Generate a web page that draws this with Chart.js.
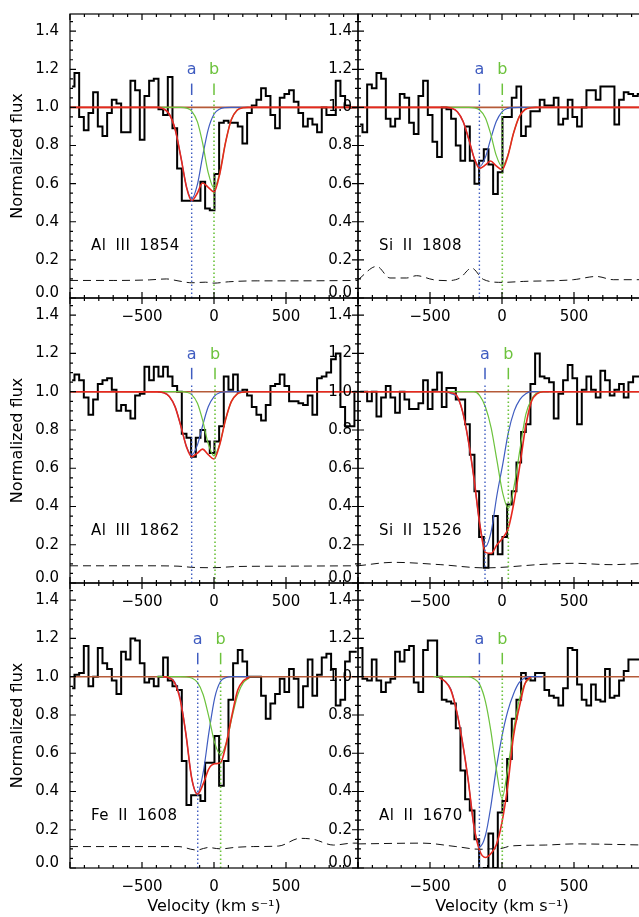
<!DOCTYPE html>
<html>
<head>
<meta charset="utf-8">
<script src="https://cdn.jsdelivr.net/npm/chart.js@4.4.0/dist/chart.umd.min.js"></script>
<style>
  html, body { margin: 0; padding: 0; background: #fff; overflow: hidden; }
  body { width: 639px; height: 917px; position: relative; }
  canvas { position: absolute; left: 0; top: 0; }
</style>
</head>
<body>
<script>
// ---- spectra: normalized flux per velocity bin ----
const binStart = -985;   // centre of the first bin, km/s
const binWidth = 32.4;   // km/s per bin

const fluxTicks = [0.0, 0.2, 0.4, 0.6, 0.8, 1.0, 1.2, 1.4];
const velTicks = [-500, 0, 500];

const ionLabels = ['Al III 1854', 'Si II 1808', 'Al III 1862', 'Si II 1526', 'Fe II 1608', 'Al II 1670'];

const fluxAl1854 = [1.11, 1.18, 0.95, 0.88, 0.97, 1.08, 0.90, 0.85, 0.97, 1.04,
  1.02, 0.87, 0.87, 1.14, 1.09, 0.83, 1.06, 1.14, 1.15, 0.99,
  0.96, 1.16, 0.89, 0.68, 0.51, 0.51, 0.51, 0.51, 0.61, 0.47,
  0.46, 0.65, 0.92, 0.93, 0.92, 0.92, 0.90, 0.81, 0.97, 1.01,
  1.04, 1.10, 1.06, 0.96, 0.89, 1.05, 1.07, 1.09, 1.03, 0.97,
  0.90, 0.94, 0.91, 0.87, 1.00, 0.96, 0.96, 1.14, 1.06, 1.01,
  1.00, 1.00];
const fluxSi1808 = [0.91, 0.87, 1.12, 1.10, 1.18, 1.15, 0.94, 0.90, 0.94, 1.07,
  1.05, 0.92, 0.86, 1.06, 1.14, 0.96, 0.82, 0.74, 1.00, 0.99,
  0.94, 0.80, 0.72, 0.90, 0.72, 0.60, 0.72, 0.78, 0.70, 0.545,
  0.66, 0.95, 0.95, 1.05, 1.11, 0.85, 0.90, 0.98, 0.98, 1.04,
  1.01, 1.01, 1.05, 0.91, 0.94, 1.04, 0.95, 0.90, 1.00, 1.09,
  1.09, 1.04, 1.11, 1.11, 1.11, 0.91, 1.04, 1.08, 1.07, 1.06,
  1.07, 1.07];
const fluxAl1862 = [1.06, 1.09, 1.06, 0.97, 0.88, 0.96, 1.04, 1.06, 1.07, 1.01,
  0.90, 0.93, 0.90, 0.86, 0.98, 0.99, 1.13, 1.06, 1.13, 1.08,
  1.13, 1.08, 1.03, 1.00, 0.78, 0.76, 0.66, 0.76, 0.80, 0.74,
  0.68, 0.74, 0.82, 1.08, 1.01, 1.09, 1.00, 1.01, 0.98, 0.92,
  0.88, 0.85, 0.93, 1.03, 1.04, 1.09, 1.03, 0.95, 0.95, 0.94,
  0.93, 0.98, 0.88, 1.07, 1.08, 1.10, 1.17, 1.20, 0.92, 0.82,
  0.82, 1.00];
const fluxSi1526 = [1.00, 1.00, 0.95, 1.00, 0.87, 0.97, 1.03, 0.97, 0.89, 1.00,
  0.96, 0.91, 0.91, 0.94, 1.06, 0.91, 1.01, 1.10, 0.92, 1.02,
  1.02, 0.96, 0.96, 0.83, 0.67, 0.48, 0.24, 0.08, 0.15, 0.35,
  0.15, 0.24, 0.41, 0.48, 0.63, 0.79, 0.83, 1.04, 1.20, 1.08,
  1.07, 1.05, 0.86, 0.99, 1.06, 1.14, 1.07, 0.83, 1.01, 1.08,
  1.01, 0.97, 1.11, 1.06, 0.98, 1.01, 1.04, 0.97, 1.05, 1.08,
  1.08, 1.06];
const fluxFe1608 = [0.94, 1.01, 1.02, 1.16, 0.95, 1.00, 1.15, 1.07, 1.04, 0.98,
  0.91, 1.13, 1.09, 1.20, 1.19, 1.07, 0.97, 0.99, 0.95, 1.00,
  1.10, 0.98, 0.95, 0.93, 0.56, 0.33, 0.38, 0.38, 0.35, 0.55,
  0.55, 0.69, 0.43, 0.56, 0.88, 1.07, 1.14, 1.08, 1.00, 1.00,
  1.00, 0.90, 0.78, 0.86, 0.91, 0.99, 0.92, 1.04, 0.99, 0.84,
  0.95, 1.09, 0.90, 1.01, 1.10, 1.12, 1.04, 0.85, 0.88, 1.08,
  1.13, 1.13];
const fluxAl1670 = [1.15, 0.99, 0.98, 1.09, 0.98, 0.92, 0.97, 0.99, 1.13, 1.08,
  1.14, 1.16, 0.97, 0.92, 1.14, 1.19, 1.19, 1.00, 0.88, 0.87,
  0.86, 0.73, 0.51, 0.36, 0.30, 0.15, -0.03, 0.00, 0.18, 0.00,
  0.29, 0.35, 0.57, 0.78, 0.88, 1.02, 0.99, 0.98, 1.02, 1.02,
  0.93, 0.90, 0.89, 0.85, 0.94, 1.15, 1.14, 0.96, 0.88, 0.85,
  0.96, 0.88, 0.87, 1.04, 0.89, 0.90, 0.98, 1.03, 1.09, 1.09,
  1.09, 1.09];

// ---- error spectra (dashed) ----
const noiseVelAl1854 = [-1000, -700, -450, -330, -250, -155, -60, 0, 100, 300, 600, 1000];
const noiseAl1854 = [0.092, 0.092, 0.095, 0.100, 0.090, 0.080, 0.083, 0.078, 0.085, 0.090, 0.090, 0.092];
const noiseVelSi1808 = [-1000, -870, -778, -662, -593, -477, -384, -292, -211, -130, 2, 148, 495, 657, 773, 935, 1000];
const noiseSi1808 = [0.096, 0.166, 0.105, 0.105, 0.117, 0.096, 0.091, 0.105, 0.157, 0.098, 0.082, 0.087, 0.096, 0.113, 0.096, 0.096, 0.096];
const noiseVelAl1862 = [-1000, -500, -250, -155, 0, 150, 500, 1000];
const noiseAl1862 = [0.090, 0.090, 0.088, 0.082, 0.080, 0.086, 0.088, 0.090];
const noiseVelSi1526 = [-1000, -755, -430, -118, 0, 250, 500, 750, 1000];
const noiseSi1526 = [0.090, 0.108, 0.096, 0.079, 0.082, 0.096, 0.103, 0.096, 0.103];
const noiseVelFe1608 = [-1000, -500, -250, -120, -40, 45, 150, 273, 450, 597, 690, 829, 968, 1000];
const noiseFe1608 = [0.112, 0.112, 0.112, 0.094, 0.107, 0.100, 0.108, 0.112, 0.115, 0.155, 0.150, 0.120, 0.130, 0.130];
const noiseVelAl1670 = [-1000, -550, -320, -155, -80, 0, 60, 300, 500, 1000];
const noiseAl1670 = [0.126, 0.130, 0.112, 0.098, 0.100, 0.103, 0.115, 0.120, 0.126, 0.120];

// ---- fitted profiles: component a (blue), b (green), total (red) ----
const modelVelWide = [-1000, -390, -350, -310, -270, -230, -190, -155, -115, -80, -40, 0, 40, 80, 120, 160, 200, 240, 1000];
const blueAl1854 = [null, 1.0, 0.992, 0.964, 0.885, 0.739, 0.580, 0.52, 0.596, 0.739, 0.885, 0.964, 0.992, 0.999, 1.0, 1.0, 1.0, 1.0, null];
const greenAl1854 = [null, 1.0, 1.0, 1.0, 1.0, 1.0, 0.996, 0.981, 0.924, 0.816, 0.657, 0.577, 0.657, 0.816, 0.935, 0.985, 0.998, 1.0, null];
const redAl1854 = [1.0, 1.0, 0.992, 0.964, 0.885, 0.739, 0.578, 0.510, 0.551, 0.603, 0.581, 0.556, 0.652, 0.815, 0.935, 0.985, 0.998, 1.0, 1.0];
const blueSi1808 = [null, 1.0, 0.995, 0.977, 0.926, 0.831, 0.728, 0.69, 0.739, 0.831, 0.926, 0.977, 0.995, 0.999, 1.0, 1.0, 1.0, 1.0, null];
const greenSi1808 = [null, 1.0, 1.0, 1.0, 1.0, 1.0, 0.997, 0.986, 0.945, 0.865, 0.748, 0.69, 0.748, 0.865, 0.952, 0.989, 0.998, 1.0, null];
const redSi1808 = [1.0, 1.0, 0.995, 0.977, 0.926, 0.831, 0.726, 0.680, 0.698, 0.719, 0.693, 0.674, 0.744, 0.864, 0.952, 0.989, 0.998, 1.0, 1.0];
const blueAl1862 = [null, 0.999, 0.995, 0.975, 0.921, 0.820, 0.711, 0.67, 0.722, 0.820, 0.921, 0.975, 0.995, 0.999, 1.0, 1.0, 1.0, 1.0, null];
const greenAl1862 = [null, 1.0, 1.0, 1.0, 1.0, 1.0, 0.997, 0.985, 0.94, 0.854, 0.728, 0.665, 0.728, 0.854, 0.948, 0.988, 0.998, 1.0, null];
const redAl1862 = [1.0, 0.999, 0.995, 0.975, 0.921, 0.820, 0.709, 0.660, 0.679, 0.700, 0.671, 0.648, 0.724, 0.853, 0.948, 0.988, 0.998, 1.0, 1.0];

const modelVelShift = [-1000, -435, -395, -355, -315, -275, -235, -195, -155, -115, -75, -35, 5, 45, 85, 125, 165, 205, 245, 285, 325, 1000];
const blueSi1526 = [null, 1.0, 1.0, 0.99, 0.975, 0.90, 0.75, 0.55, 0.31, 0.19, 0.27, 0.46, 0.62, 0.79, 0.90, 0.96, 0.99, 1.0, 1.0, 1.0, 1.0, null];
const greenSi1526 = [null, 1.0, 1.0, 1.0, 1.0, 1.0, 1.0, 1.0, 0.98, 0.92, 0.81, 0.64, 0.47, 0.39, 0.51, 0.70, 0.88, 0.96, 0.995, 1.0, 1.0, null];
const redSi1526 = [1.0, 1.0, 1.0, 0.995, 0.98, 0.90, 0.75, 0.55, 0.31, 0.16, 0.155, 0.20, 0.235, 0.29, 0.43, 0.62, 0.82, 0.95, 0.99, 1.0, 1.0, 1.0];
const blueFe1608 = [null, null, null, 1.0, 0.996, 0.975, 0.89, 0.70, 0.47, 0.39, 0.50, 0.71, 0.89, 0.975, 0.996, 1.0, 1.0, 1.0, 1.0, null, null, null];
const greenFe1608 = [null, null, 1.0, 1.0, 1.0, 1.0, 1.0, 0.999, 0.993, 0.97, 0.906, 0.788, 0.654, 0.593, 0.654, 0.788, 0.906, 0.97, 0.993, null, null, null];
const redFe1608 = [null, null, null, 1.0, 0.995, 0.97, 0.88, 0.70, 0.47, 0.385, 0.44, 0.52, 0.545, 0.55, 0.65, 0.80, 0.93, 0.98, 0.997, null, null, null];

const modelVelAl1670 = [-1000, -515, -475, -435, -395, -355, -315, -275, -235, -195, -155, -115, -78, -40, 0, 40, 80, 120, 160, 200, 240, 280, 320, 1000];
const blueAl1670 = [null, null, null, 0.995, 0.975, 0.935, 0.82, 0.66, 0.46, 0.22, 0.112, 0.17, 0.32, 0.52, 0.69, 0.82, 0.91, 0.97, 0.995, 1.0, 1.0, 1.0, null, null];
const greenAl1670 = [null, null, 1.0, 1.0, 1.0, 1.0, 1.0, 1.0, 1.0, 0.99, 0.96, 0.87, 0.72, 0.52, 0.365, 0.52, 0.72, 0.88, 0.965, 0.993, null, null, null, null];
const redAl1670 = [null, null, null, 0.995, 0.975, 0.93, 0.82, 0.66, 0.46, 0.22, 0.09, 0.055, 0.075, 0.12, 0.24, 0.43, 0.69, 0.84, 0.965, 0.998, null, null, null, null];

// component centres [a, b], km/s
const compsAl1854 = [-155, 0];
const compsSi1808 = [-157, 2];
const compsAl1862 = [-155, 7];
const compsSi1526 = [-118, 44];
const compsFe1608 = [-113, 46];
const compsAl1670 = [-157, 2];

const panels = [
  { flux: fluxAl1854, noiseVel: noiseVelAl1854, noise: noiseAl1854, modelVel: modelVelWide, blue: blueAl1854, green: greenAl1854, red: redAl1854, comps: compsAl1854 },
  { flux: fluxSi1808, noiseVel: noiseVelSi1808, noise: noiseSi1808, modelVel: modelVelWide, blue: blueSi1808, green: greenSi1808, red: redSi1808, comps: compsSi1808 },
  { flux: fluxAl1862, noiseVel: noiseVelAl1862, noise: noiseAl1862, modelVel: modelVelWide, blue: blueAl1862, green: greenAl1862, red: redAl1862, comps: compsAl1862 },
  { flux: fluxSi1526, noiseVel: noiseVelSi1526, noise: noiseSi1526, modelVel: modelVelShift, blue: blueSi1526, green: greenSi1526, red: redSi1526, comps: compsSi1526 },
  { flux: fluxFe1608, noiseVel: noiseVelFe1608, noise: noiseFe1608, modelVel: modelVelShift, blue: blueFe1608, green: greenFe1608, red: redFe1608, comps: compsFe1608 },
  { flux: fluxAl1670, noiseVel: noiseVelAl1670, noise: noiseAl1670, modelVel: modelVelAl1670, blue: blueAl1670, green: greenAl1670, red: redAl1670, comps: compsAl1670 }
];

// ---- layout ----
const W = 660, H = 917;
const colEdges = [70, 358, 646];
const rowEdges = [14, 298, 583, 868];
const FONT = '"DejaVu Sans", sans-serif';
const COL_A = '#3f5cc0', COL_B = '#6cc23c', COL_RED = '#e6281e', COL_CONT = '#b55a38';

const pairs = (xs, ys) => xs.map((x, i) => ({ x, y: ys[i] }));

// IDL-style box: inward ticks on all four sides, labels outside
const idlFrame = {
  id: 'idlFrame',
  afterDraw(chart) {
    const o = chart.options.plugins.idlFrame;
    const { ctx, chartArea: a } = chart;
    const xs = chart.scales.x, ys = chart.scales.y;
    ctx.save();
    ctx.strokeStyle = '#000';
    ctx.lineWidth = 1.2;
    ctx.strokeRect(a.left, a.top, a.right - a.left, a.bottom - a.top);
    ctx.beginPath();
    for (let v = -1000; v <= 1000; v += 100) {
      const px = xs.getPixelForValue(v);
      const len = v % 500 === 0 ? 6 : 3;
      ctx.moveTo(px, a.bottom); ctx.lineTo(px, a.bottom - len);
      ctx.moveTo(px, a.top); ctx.lineTo(px, a.top + len);
    }
    for (let k = 0; k <= 29; k++) {
      const py = ys.getPixelForValue(k * 0.05);
      const len = k % 4 === 0 ? 6 : 3;
      ctx.moveTo(a.left, py); ctx.lineTo(a.left + len, py);
      ctx.moveTo(a.right, py); ctx.lineTo(a.right - len, py);
    }
    ctx.stroke();

    ctx.fillStyle = '#000';
    ctx.font = '15px ' + FONT;
    ctx.textAlign = 'right';
    ctx.textBaseline = 'middle';
    fluxTicks.forEach(f => {
      const py = Math.min(ys.getPixelForValue(f), a.bottom - 5);
      ctx.fillText(f.toFixed(1), a.left - o.labelGap, py);
    });
    ctx.textAlign = 'center';
    velTicks.forEach(v => {
      const txt = v < 0 ? '\u2212' + Math.abs(v) : String(v);
      ctx.fillText(txt, xs.getPixelForValue(v), a.bottom + 19);
    });

    // line identification
    ctx.textAlign = 'left';
    ctx.font = '15px ' + FONT;
    ctx.letterSpacing = '0.5px';
    ctx.wordSpacing = '4px';
    ctx.fillText(o.ion, xs.getPixelForValue(-855), ys.getPixelForValue(0.27));
    ctx.letterSpacing = '0px';
    ctx.wordSpacing = '0px';

    // component names
    ctx.textAlign = 'center';
    ctx.font = '16px ' + FONT;
    ctx.fillStyle = COL_A;
    ctx.fillText('a', xs.getPixelForValue(o.comps[0]), ys.getPixelForValue(1.195));
    ctx.fillStyle = COL_B;
    ctx.fillText('b', xs.getPixelForValue(o.comps[1]), ys.getPixelForValue(1.195));

    ctx.fillStyle = '#000';
    ctx.font = '16px ' + FONT;
    if (o.yTitle) {
      ctx.save();
      ctx.translate(18, (a.top + a.bottom) / 2);
      ctx.rotate(-Math.PI / 2);
      ctx.fillText('Normalized flux', 0, 0);
      ctx.restore();
    }
    if (o.xTitle) {
      ctx.fillText('Velocity (km s\u207B\u00B9)', (a.left + a.right) / 2, 907);
    }
    ctx.restore();
  }
};

panels.forEach((p, i) => {
  const col = i % 2, row = Math.floor(i / 2);
  const cv = document.createElement('canvas');
  cv.width = W; cv.height = H;
  cv.style.width = W + 'px'; cv.style.height = H + 'px';
  document.body.appendChild(cv);

  const hist = p.flux.map((f, k) => ({ x: binStart + k * binWidth, y: f }));
  const [ca, cb] = p.comps;

  // first dataset is drawn on top; red and the continuum share a width so
  // the total profile fully hides the continuum where it spans the panel
  const datasets = [
    { data: [{ x: ca, y: 1.065 }, { x: ca, y: 1.125 }], borderColor: COL_A, borderWidth: 1.5 },
    { data: [{ x: cb, y: 1.065 }, { x: cb, y: 1.125 }], borderColor: COL_B, borderWidth: 1.5 },
    { data: [{ x: ca, y: 0 }, { x: ca, y: 1.045 }], borderColor: COL_A, borderWidth: 1.4, borderDash: [1.5, 2.5] },
    { data: [{ x: cb, y: 0 }, { x: cb, y: 1.045 }], borderColor: COL_B, borderWidth: 1.6, borderDash: [1.5, 2.5] },
    { data: pairs(p.modelVel, p.red), borderColor: COL_RED, borderWidth: 1.6, cubicInterpolationMode: 'monotone' },
    { data: pairs(p.modelVel, p.green), borderColor: COL_B, borderWidth: 1.2, cubicInterpolationMode: 'monotone' },
    { data: pairs(p.modelVel, p.blue), borderColor: COL_A, borderWidth: 1.2, cubicInterpolationMode: 'monotone' },
    { data: pairs(p.noiseVel, p.noise), borderColor: '#111', borderWidth: 1, borderDash: [8, 5], cubicInterpolationMode: 'monotone' },
    { data: [{ x: -1000, y: 1 }, { x: 1000, y: 1 }], borderColor: COL_CONT, borderWidth: 1.6 },
    { data: hist, borderColor: '#000', borderWidth: 2, stepped: 'middle', borderJoinStyle: 'miter' }
  ].map(d => Object.assign({ pointRadius: 0, fill: false, clip: 0 }, d));

  new Chart(cv, {
    type: 'line',
    data: { datasets },
    options: {
      responsive: false,
      animation: false,
      devicePixelRatio: 1,
      events: [],
      layout: {
        padding: {
          left: colEdges[col], right: W - colEdges[col + 1],
          top: rowEdges[row], bottom: H - rowEdges[row + 1]
        }
      },
      plugins: {
        legend: { display: false },
        tooltip: { enabled: false },
        idlFrame: {
          ion: ionLabels[i], comps: p.comps,
          labelGap: col === 0 ? 11 : 6,
          yTitle: col === 0, xTitle: row === 2
        }
      },
      scales: {
        x: { type: 'linear', min: -1000, max: 1000, display: false },
        y: { type: 'linear', min: 0, max: 1.49, display: false }
      }
    },
    plugins: [idlFrame]
  });
});
</script>
</body>
</html>
